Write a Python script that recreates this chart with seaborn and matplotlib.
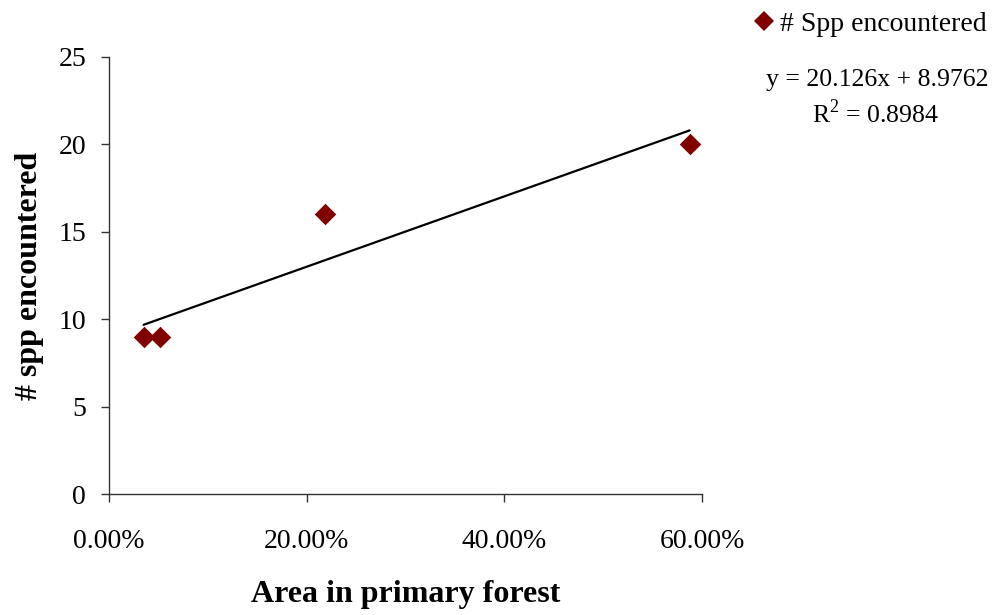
import numpy as np
import pandas as pd
import matplotlib
matplotlib.use("Agg")
import matplotlib.pyplot as plt
import seaborn as sns
from matplotlib.ticker import FuncFormatter

# data
area_primary = [0.035, 0.052, 0.219, 0.5875]
spp_encountered = [9, 9, 16, 20]
trend_slope = 20.126
trend_intercept = 8.9762
r_squared = 0.8984
x_ticks = [0.0, 0.2, 0.4, 0.6]
y_ticks = [0, 5, 10, 15, 20, 25]
series_name = "# Spp encountered"

sns.set_theme(style="white")
plt.rcParams['font.family'] = ['Liberation Serif', 'DejaVu Serif']
plt.rcParams['mathtext.fontset'] = 'custom'
plt.rcParams['mathtext.rm'] = 'Liberation Serif'
plt.rcParams['text.color'] = 'black'
plt.rcParams['axes.labelcolor'] = 'black'

fig = plt.figure(figsize=(9.96, 6.15), dpi=100)
ax = fig.add_axes([109/996, 1 - 494/615, (702 - 109)/996, (494 - 57)/615])

df = pd.DataFrame({"x": area_primary, "y": spp_encountered})
xs = np.array([min(area_primary), max(area_primary)])
trend = pd.DataFrame({"x": xs, "y": trend_slope * xs + trend_intercept})
sns.lineplot(data=trend, x="x", y="y", ax=ax, color="black", linewidth=1.6, zorder=2)
sns.scatterplot(data=df, x="x", y="y", ax=ax, marker="D", s=120, color="#800000",
                edgecolor="#800000", linewidth=0, zorder=3, label=series_name, legend=False)

ax.set_xlim(0, 0.6)
ax.set_ylim(0, 25)
ax.set_xticks(x_ticks)
ax.set_yticks(y_ticks)
ax.xaxis.set_major_formatter(FuncFormatter(lambda v, p: f"{v*100:.2f}%"))
for s in ["top", "right"]:
    ax.spines[s].set_visible(False)
for s in ["left", "bottom"]:
    ax.spines[s].set_color("#333333")
    ax.spines[s].set_linewidth(1.0)
ax.tick_params(axis="both", which="major", direction="out", length=6, width=1,
               bottom=True, left=True,
               color="#333333", labelsize=20, labelcolor="black")
ax.tick_params(axis="x", pad=19.5)
ax.tick_params(axis="y", pad=10.5)
ax.set_xlabel("Area in primary forest", fontsize=23, fontweight="bold", labelpad=18.5)
ax.set_ylabel("# spp encountered", fontsize=23, fontweight="bold", labelpad=10)

handles = [plt.Line2D([], [], marker="D", linestyle="none", color="#800000",
                      markersize=10.5, markeredgewidth=0)]
fig.legend(handles, [series_name], loc="center left",
           bbox_to_anchor=(756/996, 1 - 24/615), frameon=False, fontsize=20,
           handlelength=0.6, handletextpad=0.25, borderpad=0, borderaxespad=0)

fig.text(877/996, 1 - 80/615, f"y = {trend_slope}x + {trend_intercept}", ha="center",
         va="center", fontsize=18.5)
fig.text(876/996, 1 - 114/615, f"R$^{{2}}$ = {r_squared}", ha="center", va="center",
         fontsize=18.5)

fig.savefig("out.png", dpi=100)
